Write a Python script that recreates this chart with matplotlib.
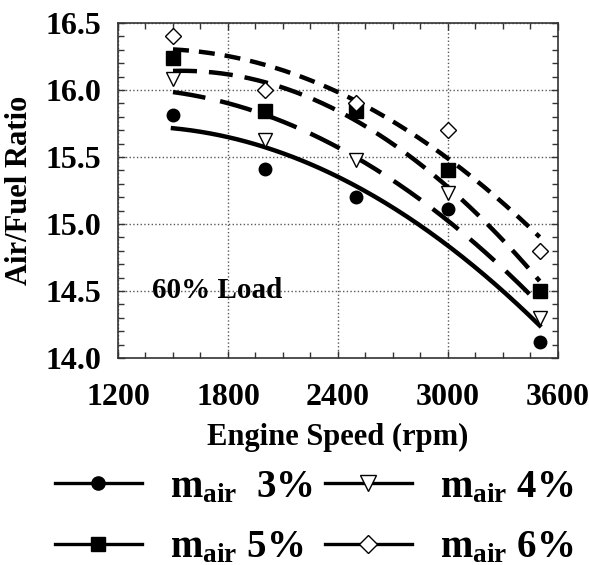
import matplotlib
matplotlib.use("Agg")
import matplotlib.pyplot as plt
from matplotlib.lines import Line2D
from matplotlib.ticker import MultipleLocator, FormatStrFormatter
import numpy as np

plt.rcParams['font.family'] = 'Liberation Serif'
plt.rcParams['font.weight'] = 'bold'
plt.rcParams['axes.labelweight'] = 'bold'
plt.rcParams['mathtext.fontset'] = 'custom'
plt.rcParams['mathtext.rm'] = 'Liberation Serif:bold'
plt.rcParams['mathtext.bf'] = 'Liberation Serif:bold'
plt.rcParams['mathtext.it'] = 'Liberation Serif:bold'

# data
speed = [1500, 2000, 2500, 3000, 3500]
afr_3 = [15.81, 15.41, 15.20, 15.11, 14.12]
afr_4 = [16.08, 15.63, 15.48, 15.23, 14.30]
afr_5 = [16.24, 15.84, 15.84, 15.40, 14.50]
afr_6 = [16.40, 16.00, 15.90, 15.70, 14.80]
names = [r'$\mathbf{m_{air}}$  3%', r'$\mathbf{m_{air}}$ 4%',
         r'$\mathbf{m_{air}}$ 5%', r'$\mathbf{m_{air}}$ 6%']
xticks = [1200, 1800, 2400, 3000, 3600]
yticks = [14.0, 14.5, 15.0, 15.5, 16.0, 16.5]

series = [afr_3, afr_4, afr_5, afr_6]
markers = ['o', 'v', 's', 'D']
faces = ['black', 'white', 'black', 'white']
msizes = [9, 10, 9.5, 8]
leg_msizes = [9.5, 12, 10.5, 9]
lw = 3.2
styles = ['-', (0, (7.4, 3.4)), (0, (5.4, 2.7)), (0, (3.6, 2.25))]

fig = plt.figure(figsize=(5.89, 5.65), dpi=100)
ax = fig.add_axes([0.2003, 0.3664, 0.7470, 0.5929])

# quadratic trend lines fitted to each series
xs = np.linspace(speed[0], speed[-1], 200)
for y, ls in zip(series, styles):
    coef = np.polyfit(speed, y, 2)
    ax.plot(xs, np.polyval(coef, xs), color='black', lw=lw, linestyle=ls,
            dash_capstyle='butt', zorder=2)

for y, m, fc, ms in zip(series, markers, faces, msizes):
    ax.plot(speed, y, linestyle='none', marker=m, markersize=ms,
            markerfacecolor=fc, markeredgecolor='black', markeredgewidth=1,
            zorder=3)

ax.set_xlim(1200, 3600)
ax.set_ylim(14.0, 16.5)
ax.set_xticks(xticks)
ax.set_yticks(yticks)
ax.xaxis.set_minor_locator(MultipleLocator(150))
ax.yaxis.set_minor_locator(MultipleLocator(0.1))
ax.yaxis.set_major_formatter(FormatStrFormatter('%.1f'))
ax.tick_params(which='both', direction='in', top=True, right=True,
               width=1, color='0.2')
ax.tick_params(which='major', length=5, labelsize=23)
ax.tick_params(which='minor', length=4)
ax.tick_params(axis='x', pad=18)
ax.tick_params(axis='y', pad=12)
for s in ax.spines.values():
    s.set_linewidth(1.2)
    s.set_color('0.2')
ax.grid(True, which='major', linestyle=':', color='0.35', linewidth=1.0)

ax.set_xlabel('Engine Speed (rpm)', fontsize=22, labelpad=8)
ax.set_ylabel('Air/Fuel Ratio', fontsize=22, labelpad=8)
ax.text(1385, 14.5, '60% Load', fontsize=21, va='center', ha='left')

handles = []
for m, fc, ms in zip(markers, faces, leg_msizes):
    handles.append(Line2D([], [], color='black', lw=2.4, marker=m,
                          markersize=ms, markerfacecolor=fc,
                          markeredgecolor='black', markeredgewidth=1))
order = [0, 2, 1, 3]
fig.legend([handles[i] for i in order], [names[i] for i in order],
           ncol=2, loc='upper left', bbox_to_anchor=(0.093, 0.17),
           frameon=False, fontsize=28, handlelength=2.24,
           handletextpad=0.72, columnspacing=0.3, labelspacing=0.6,
           borderaxespad=0, borderpad=0)

fig.savefig('out.png', dpi=100)
